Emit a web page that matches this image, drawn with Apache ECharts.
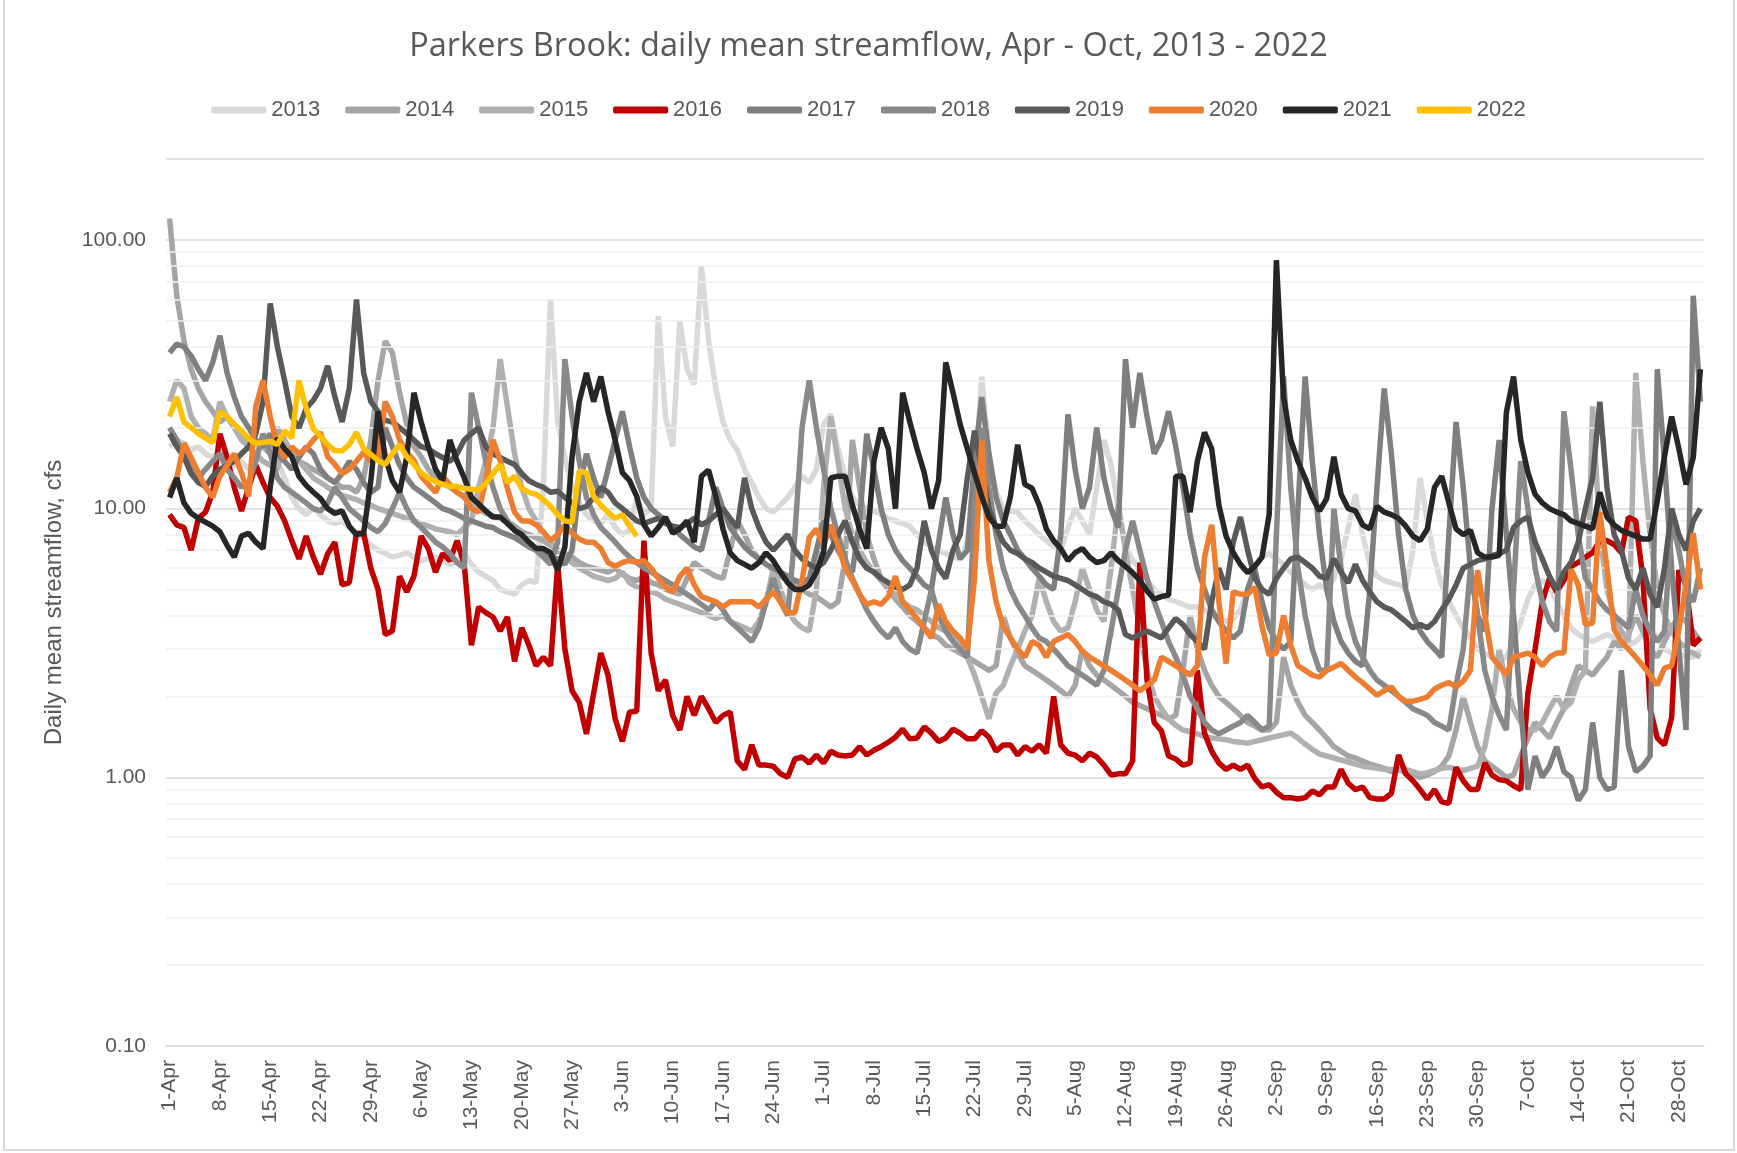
<!DOCTYPE html>
<html><head><meta charset="utf-8">
<script src="https://cdn.jsdelivr.net/npm/echarts@6/dist/echarts.min.js"></script>
<style>
html,body{margin:0;padding:0;background:#fff;}
#chart{position:absolute;left:0;top:0;width:1737px;height:1153px;}
#frame{position:absolute;left:3px;top:-2px;width:1732px;height:1153px;border:2px solid #D9D9D9;box-sizing:border-box;pointer-events:none;}
</style></head><body>
<div id="chart"></div>
<div id="frame"></div>
<script>
const months = ['Apr','May','Jun','Jul','Aug','Sep','Oct'];
const monthDays = [30,31,30,31,31,30,31];
const years = ['2013','2014','2015','2016','2017','2018','2019','2020','2021','2022'];
const yTickValues = [0.1, 1, 10, 100];

const y2013 = [17,18,17.5,16.5,17,16,15.5,16.5,15,14.5,
15,14,16,17.5,16,15,13,11,10,9.5,
10,9.5,9,8.8,9,8.5,8,7.8,7.3,7,
6.8,6.6,6.7,6.85,6.6,6.4,6.5,6.6,6.4,6.2,
6.3,6.8,6.2,5.8,5.6,5.4,5.0,4.9,4.8,5.2,
5.4,5.3,12,60,21,15.5,12,10.5,9.5,9,
8.8,9.5,8.5,8,8.3,11,9.5,10,52,22,
17,50,33,29,80,42,28,21,18,16.5,
14,12.5,11,10,9.7,10.3,11,12,13.2,12.5,
14,20.6,22.4,16.7,13,11,10.3,10,9.8,9.5,
9.2,9.0,8.8,8.6,8.0,7.5,7.2,7.0,6.8,6.6,
6.5,7.5,12,31,16,11.5,10,9.8,9.7,9,
8.5,8.0,7.6,7.2,7.0,8.5,10,9,8,12,
18,14.6,10,7.3,6.4,6.0,5.4,5.0,4.8,4.6,
4.5,4.4,4.3,4.3,4.2,4.0,3.9,3.8,3.9,4.2,
5.0,6.0,6.6,6.8,6.5,6.2,5.8,5.5,5.2,5.0,
5.2,5.0,5.5,6.5,8.5,11.3,8,6.2,5.6,5.4,
5.3,5.2,5.1,7,13,9,6.5,5.2,4.5,4.0,
3.6,3.3,3.0,2.9,2.8,2.75,2.8,3.2,3.8,4.6,
5.2,5.4,5.2,4.5,4.0,3.6,3.4,3.3,3.2,3.3,
3.4,3.3,3.2,3.1,3.2,3.4,3.6,3.3,3.0,2.9,
2.9,2.8,2.8,3.0];

const y2014 = [120,62,42,33,28,25,23,21,22,20,
19,18,17.5,17,16,20,18,16,15,14.5,
14,13.5,13,12.5,12,12,11.5,13,18,30,
42,38,27,20.6,17,15.6,14,13,12.5,12,
11.5,11,10.5,10,9.6,9.4,9.2,9,8.6,8.2,
8,7.8,7.6,7.3,7,6.8,6.6,6.3,6.1,6,
5.9,5.8,6.0,5.7,5.5,5.4,5.6,5.3,5.2,5.0,
4.9,4.8,5.5,6.3,6,5.8,5.6,5.5,7,9,
8,7,6.5,6.2,5.9,5.6,5.4,5.2,5.0,4.8,
4.7,4.5,4.3,4.5,6.5,18,12,8,6.5,5.5,
5,4.6,4.3,4.0,3.8,3.6,3.4,3.3,3.1,3.0,
2.9,2.8,2.7,2.6,2.5,2.6,4,3.3,2.9,2.6,
2.5,2.4,2.3,2.2,2.1,2.0,2.2,3,2.6,2.4,
2.3,2.2,2.1,2.0,1.9,1.85,1.8,1.75,1.7,1.65,
1.7,2.5,4,3,2.5,2.2,2.0,1.9,1.8,1.7,
1.6,1.55,1.5,1.5,1.6,2.8,2.2,1.9,1.7,1.6,
1.5,1.4,1.3,1.25,1.2,1.18,1.15,1.12,1.1,1.08,
1.05,1.07,1.04,1.02,1.0,1.02,1.05,1.1,1.2,1.5,
2,1.6,1.3,1.15,1.1,1.05,1.0,1.02,1.2,1.4,
1.6,1.5,1.4,1.6,1.8,2.2,2.6,2.5,2.4,2.6,
2.8,3.2,3.0,3.4,4,3.5,3.0,2.8,3.2,3.6,
4,3.8,3.5,3.2];

const y2015 = [25,30,28,22,20,19,18,25,22,20,
18,17,16,15,14.5,14,18,16,15,14,
13,12.5,12,11.5,11.2,11,10.8,10.5,10.3,10,
9.8,9.6,9.4,9.2,9,8.8,8.6,8.4,8.3,8.2,
8,8.5,9,12,15,20,36,24,16,12,
10,9,8,7.5,7,6.6,6.3,6,5.8,5.6,
5.5,5.4,5.5,5.8,5.3,5.1,5.0,4.9,4.8,4.6,
4.5,4.4,4.3,4.2,4.1,4.0,3.9,4.0,3.8,3.7,
3.6,3.5,3.8,4.5,6,5,4.2,3.8,3.6,3.5,
5,12,22,15,10,8,7,6.3,5.8,5.4,
5,4.8,4.5,4.3,4.2,4.0,3.8,3.6,3.5,3.4,
3.2,2.8,2.4,2.0,1.65,2.06,2.2,2.6,3.0,3.5,
4,5.5,4.5,3.8,3.5,3.6,4.5,6,5,4.2,
3.8,6,10.3,7,5,3.5,2.5,2.0,1.8,1.65,
1.56,1.5,1.48,1.45,1.42,1.4,1.39,1.38,1.36,1.35,
1.34,1.36,1.38,1.40,1.42,1.44,1.46,1.4,1.33,1.27,
1.22,1.2,1.18,1.16,1.14,1.12,1.1,1.09,1.08,1.07,
1.07,1.06,1.07,1.05,1.03,1.04,1.06,1.08,1.09,1.07,
1.06,1.08,1.1,1.3,1.8,3,2.2,1.8,1.6,1.5,
1.5,1.6,1.8,2.0,1.8,1.9,2.3,2.5,24,8,
5,4,3.5,3.2,32,15,8,5,4,3.5,
3.2,3,2.9,2.8];

const y2016 = [9.5,8.7,8.5,7.0,9.2,9.7,11.5,19.0,15.5,12.0,
9.8,12.0,14.5,12.5,11.0,10.2,9.0,7.6,6.5,7.9,
6.6,5.7,6.8,7.5,5.2,5.3,8.1,8.1,6.0,5.0,
3.4,3.5,5.6,4.9,5.6,7.9,7.1,5.8,6.8,6.4,
7.6,6.2,3.1,4.3,4.1,3.95,3.5,3.95,2.7,3.6,
3.1,2.6,2.8,2.6,6.2,3.0,2.1,1.9,1.45,2.05,
2.9,2.4,1.65,1.36,1.75,1.76,7.6,2.9,2.1,2.3,
1.7,1.5,2.0,1.7,2.0,1.8,1.6,1.7,1.75,1.15,
1.07,1.32,1.11,1.11,1.1,1.03,1.0,1.17,1.19,1.13,
1.21,1.13,1.25,1.21,1.2,1.21,1.3,1.21,1.26,1.3,
1.35,1.41,1.51,1.39,1.4,1.54,1.46,1.36,1.4,1.51,
1.46,1.39,1.39,1.49,1.41,1.25,1.32,1.32,1.21,1.3,
1.25,1.32,1.23,2.0,1.32,1.23,1.21,1.15,1.23,1.19,
1.11,1.02,1.03,1.03,1.15,6.3,2.3,1.6,1.49,1.2,
1.17,1.11,1.13,2.5,1.46,1.25,1.13,1.07,1.11,1.07,
1.11,0.99,0.92,0.94,0.88,0.84,0.84,0.83,0.84,0.89,
0.86,0.92,0.92,1.07,0.95,0.9,0.92,0.84,0.83,0.83,
0.87,1.21,1.03,0.97,0.9,0.83,0.9,0.81,0.8,1.09,
0.97,0.9,0.9,1.13,1.02,0.98,0.97,0.93,0.9,2.06,
3.0,4.5,5.5,4.9,5.4,6.1,6.3,6.6,6.85,7.6,
7.6,7.35,6.85,9.3,9.0,5.5,1.8,1.4,1.32,1.67,
5.9,5.2,3.1,3.3];

const y2017 = [38,41,40,37,33,30,35,44,32,26,
22,20,18,17,19,16,15,14,15.5,17,
16,14,13,12.5,13.5,15,14,12.5,11.5,12,
20,17,14.5,13,12,11.5,11,10.5,10,9.8,
9.5,9.2,9.0,8.8,8.6,8.5,8.2,8.0,7.8,7.5,
7.2,7.0,6.8,6.6,6.5,6.2,7,12,16,13,
11,14,18,23,17,13,11,10,9.5,9,
8.5,8,7.6,7.2,7,9,12,10,8.5,7.8,
7.2,6.8,6.5,6.2,6.0,5.8,5.6,5.4,5.3,5.5,
7,9,8,7,6.3,5.8,9,19,14,10,
8,7,6.4,6,5.6,5.2,5,7.5,11,8,
6.5,7,15,26,16,11,9,8,7,6.5,
6,5.6,5.2,5,8,22.4,14,10,12,20,
13,10,8.5,36,20,32,22,16,18,23,
17,12,8,6,5,4.2,3.8,3.5,3.3,3.5,
5,6,4.5,3.6,3.2,3.0,3.2,10,31,15,
8,5,3.8,3.2,2.9,2.7,2.6,5,12,28,
16,8,5,4,3.5,3.2,3.0,2.8,8,21,
12,6,4,3.5,10,18,8,4,1.8,0.9,
1.2,1.0,1.1,1.3,1.05,1.0,0.82,0.9,1.6,1.0,
0.9,0.92,2.5,1.3,1.05,1.1,1.2,33,15,6,
3,1.5,62,25];

const y2018 = [20,18,16,14,13,14,15,16,14,13,
12,12.5,15,19,16,13,12,11.5,11,10.5,
10,9.8,10.5,12,11,10,9.5,9,8.5,8.2,
8.8,10,11.5,10,9,8.5,8,7.5,7.2,6.8,
6.3,6.0,27,20,15,12,10,9,8.3,7.8,
7.3,7,6.6,6.2,7.5,36,22,15,11,9.5,
8.5,8,7.5,7,6.6,6.3,6.0,5.8,5.6,5.4,
5.2,5,4.8,4.6,4.4,4.2,4.5,4.2,3.8,3.6,
3.4,3.2,3.6,4.5,5.5,4.5,4.0,8,20,30,
20,14,10,8,6.5,5.5,4.8,4.2,3.8,3.5,
3.3,3.6,3.2,3.0,2.9,3.8,5,4,3.5,3.2,
3.0,2.8,10,20,12,8,6,5,4.4,4.0,
3.6,3.3,3.2,3.0,2.8,2.6,2.5,2.4,2.3,2.2,
2.5,3.5,5,7,9,7,5.5,4.5,3.8,3.2,
2.8,2.4,2.0,1.8,1.6,1.5,1.45,1.5,1.55,1.6,
1.7,1.6,1.5,1.55,8,31,12,6,4,3,
2.5,2.5,10,6,4,3.2,2.8,2.5,2.3,2.2,
2.1,2.0,1.9,1.8,1.75,1.7,1.6,1.55,1.5,2.2,
3,6,4,2.5,2.0,1.7,1.5,5,15,10,
6,4.5,3.8,3.5,23,14,8,5.5,5,4.5,
4.2,4,3.8,3.6,5,4,3.5,3.2,3.5,9,
7,5,4.5,6];

const y2019 = [19,17,15.6,13.5,12.5,12.1,13.2,14,14.5,15,
16,17,19,25,58,40,30,22,20,23.6,
25.3,28,34,26,21,28,60,32,25,23,
21.3,21,20,19,18,17,16.7,16,15.5,15,
16,18,19,20,17,16,15.5,15,14.6,13.5,
12.7,12.3,12,11.5,11.6,11,10.5,10,10.2,11,
12,11.5,10.5,10,9.5,9,8.8,9,9.2,8.8,
8.6,8.5,8.8,9.2,8.7,9.0,9.5,10,9.2,8.5,
13,10,8.5,7.5,7,7.5,8,7,6.5,6.2,
6.0,6.3,7,8,9,7.5,6.5,6.0,5.8,5.5,
5.3,5.1,5.0,5.2,6,9,7,6,5.5,7,
8,13,19.5,14,10,8.5,7.5,7,6.8,6.5,
6.3,6.0,5.8,5.6,5.5,5.4,5.2,5,4.8,4.7,
4.5,4.4,4.2,3.4,3.3,3.4,3.5,3.4,3.3,3.6,
3.9,3.7,3.4,3.2,3.0,4.5,6,5,7.5,9.3,
7,5.5,5,4.8,5.5,6,6.5,6.6,6.3,6.0,
5.6,5.5,6.5,5.8,5.3,6.2,5.4,4.9,4.5,4.3,
4.2,4.0,3.8,3.6,3.7,3.6,3.8,4.2,4.6,5.2,
6.0,6.2,6.4,6.5,6.7,6.8,7,8.5,9,9.3,
7.5,6.5,5.6,5.0,5.8,6.3,7.5,10,13,25,
12,8,7,5.5,5,6,4.8,4.3,6,10,
8,7,9,10];

const y2020 = [11.5,13,17.5,15.5,13.6,12,11,13.2,14.5,16,
13.6,11.1,24,30,22,17,15.5,17,16,16.7,
18,19.2,15.6,14.6,13.5,14,15,16.2,15,15.6,
25,22,18,16.2,15.1,13.2,12.3,11.5,13.2,12.3,
11.5,11.1,10,9.7,12.7,18,15.1,11.9,9.7,9.0,
9.0,8.7,8.2,7.6,8.0,8.7,8.1,7.7,7.5,7.5,
7.1,6.3,6.1,6.3,6.4,6.3,6.4,6.0,5.5,5.1,
4.9,5.6,6.0,5.2,4.7,4.6,4.5,4.3,4.5,4.5,
4.5,4.5,4.3,4.6,4.9,4.5,4.1,4.1,5.4,7.8,
8.4,7.3,8.7,7.3,6.0,5.4,4.8,4.4,4.5,4.4,
4.7,5.6,4.5,4.2,3.9,3.6,3.3,4.4,3.8,3.5,
3.3,3.0,5.5,18,6.4,4.5,3.65,3.3,3.0,2.8,
3.2,3.1,2.8,3.2,3.3,3.4,3.2,2.95,2.8,2.7,
2.6,2.5,2.4,2.3,2.2,2.1,2.2,2.3,2.8,2.7,
2.6,2.5,2.4,2.6,6.6,8.7,4.5,2.65,4.9,4.8,
4.8,5.1,3.65,2.85,2.9,4.0,3.1,2.6,2.5,2.4,
2.36,2.5,2.57,2.65,2.5,2.36,2.25,2.13,2.02,2.1,
2.17,2.0,1.92,1.92,1.95,1.99,2.13,2.2,2.25,2.17,
2.28,2.5,5.9,4.0,2.8,2.6,2.4,2.8,2.85,2.9,
2.8,2.6,2.8,2.9,2.9,5.95,5.2,3.7,3.75,9.7,
6.0,3.55,3.2,3.0,2.8,2.6,2.4,2.2,2.55,2.6,
3.55,5.2,8.1,5.0];

const y2021 = [11,13,10.5,9.6,9.2,8.9,8.6,8.2,7.3,6.6,
7.9,8.1,7.5,7.1,12,18.3,16.7,15.6,13.2,12.2,
11.5,10.9,10.0,9.6,9.8,8.6,8.0,8.1,12.7,23,
15.6,12.7,11.5,15.6,27,21,17,14,12.7,18,
15,13,11,10.4,9.8,9.3,9.3,8.8,8.3,8.0,
7.5,7.1,7.1,6.85,5.9,7.2,15.6,25,32,25,
31,23,18,13.6,12.7,11.1,8.7,7.9,8.5,9.3,
8.1,8.4,9.0,7.5,13.2,13.9,11.1,8.4,6.85,6.4,
6.2,6.0,6.3,6.85,6.4,5.8,5.3,5.0,5.0,5.2,
5.8,6.9,13,13.2,13.2,10.3,8.4,7.1,15,20,
16.7,10,27,21,16.7,13.6,10,12.7,35,27,
20.6,16.7,13.6,11.1,9.3,8.6,8.6,11.1,17.3,12.3,
11.9,10.3,8.4,7.6,7.1,6.4,6.85,7.1,6.6,6.3,
6.4,6.85,6.4,6.1,5.77,5.4,4.94,4.6,4.7,4.77,
13.2,13.2,9.7,15,19.2,16.7,10.3,7.9,6.85,6.2,
5.77,6.1,6.6,9.5,84,26,18,15,13,11,
9.8,10.9,15.6,11.3,10,9.8,8.7,8.4,10.2,9.7,
9.5,9.2,8.6,7.9,7.6,8.4,12.0,13.2,10.5,8.4,
8.0,8.3,6.85,6.6,6.6,6.7,22.8,31,18,13.6,
11.3,10.5,10,9.7,9.5,9.0,8.8,8.6,8.4,11.5,
9.3,8.7,8.3,8.1,7.9,7.7,7.7,10.7,15.6,22,
16.7,12.3,15.5,33];

const y2022 = [22,26,21,20,19,18.3,17.6,23,22,20.6,
19.5,18.2,17.5,17.6,17.8,17.3,19.5,18.3,30,23.6,
19.8,18.6,17.3,16.4,16.4,17.3,19.2,16.7,15.9,15.1,
14.6,16,17.3,15.6,14.6,13.6,13.0,12.6,12.3,12.1,
12.1,11.9,11.8,11.7,12.4,13.5,14.6,12.5,13.2,11.9,
11.5,11.3,10.8,10.2,9.5,9.0,8.9,13.8,13.6,11.1,
10.3,9.7,9.2,9.5,8.6,7.9];

const seriesValues = [y2013,y2014,y2015,y2016,y2017,y2018,y2019,y2020,y2021,y2022];
const colors = ['#D9D9D9','#A5A5A5','#B0B0B0','#C00000','#7F7F7F','#898989','#595959','#ED7D31','#262626','#FFC000'];

const categories = [];
months.forEach((m, i) => { for (let d = 1; d <= monthDays[i]; d++) categories.push(d + '-' + m); });

const minorGrid = [];
[0.1, 1, 10, 100].forEach(b => { for (let k = 2; k <= 9; k++) { const v = +(b * k).toPrecision(3); if (v < 200) minorGrid.push({ yAxis: v }); } });

const FONT = 'Liberation Sans';
const LINE_W = 5.5;
const chart = echarts.init(document.getElementById('chart'), null, { renderer: 'canvas' });

const series = [{
  name: 'minor', type: 'line', data: categories.map(() => null), silent: true,
  symbol: 'none', z: 0,
  markLine: { silent: true, symbol: ['none','none'], label: { show: false },
    lineStyle: { color: '#EFEFEF', type: 'solid', width: 1.5 }, data: minorGrid, animation: false }
}];
years.forEach((y, i) => {
  const vals = seriesValues[i];
  const ls = { width: LINE_W, color: colors[i], type: 'solid', opacity: 1 };
  series.push({
    name: y, type: 'line', data: categories.map((c, k) => k < vals.length ? vals[k] : null),
    symbol: 'none', showSymbol: false, connectNulls: false,
    lineStyle: ls,
    itemStyle: { color: colors[i] },
    emphasis: { disabled: true, lineStyle: ls },
    blur: { lineStyle: ls },
    z: 2 + i
  });
});

chart.setOption({
  animation: false,
  backgroundColor: '#ffffff',
  textStyle: { fontFamily: FONT },
  title: {
    text: 'Parkers Brook: daily mean streamflow, Apr - Oct, 2013 - 2022',
    left: 'center', top: 25,
    textStyle: { fontSize: 32.5, fontWeight: 'normal', color: '#595959', fontFamily: 'Open Sans' }
  },
  legend: {
    data: years, top: 94, left: 'center',
    icon: 'roundRect', itemWidth: 55, itemHeight: 7, itemGap: 25,
    textStyle: { fontSize: 22, color: '#595959', fontFamily: FONT }
  },
  grid: { left: 166, right: 33, top: 159, bottom: 107, containLabel: false },
  xAxis: {
    type: 'category', data: categories, boundaryGap: true,
    axisLine: { show: true, lineStyle: { color: '#D9D9D9', width: 1.5 } },
    axisTick: { show: false },
    axisLabel: { interval: 6, rotate: 90, fontSize: 21, color: '#595959', margin: 14, fontFamily: FONT },
    splitLine: { show: false }
  },
  yAxis: {
    type: 'log', logBase: 10, min: 0.1, max: 200,
    name: 'Daily mean streamflow, cfs', nameLocation: 'middle', nameRotate: 90, nameGap: 100,
    nameTextStyle: { fontSize: 24, color: '#595959', fontFamily: FONT },
    axisLine: { show: false }, axisTick: { show: false },
    axisLabel: {
      fontSize: 21, color: '#595959', margin: 20, fontFamily: FONT,
      formatter: v => yTickValues.some(t => Math.abs(t - v) / t < 1e-6) ? v.toFixed(2) : ''
    },
    splitLine: { show: true, lineStyle: { color: '#D9D9D9', width: 1.5 } }
  },
  series: series
});
</script>
</body></html>
